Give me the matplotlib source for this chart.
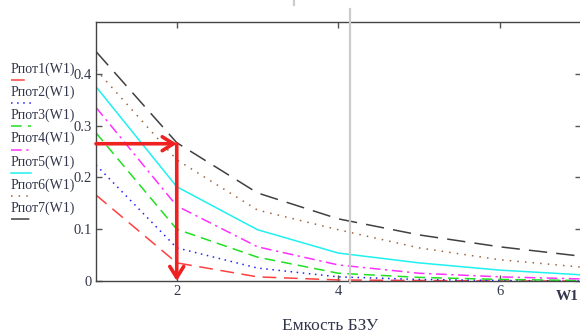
import matplotlib
matplotlib.use("Agg")
import matplotlib.pyplot as plt

# capacity W1 (x) and the seven Pпот curves
w1 = [1, 2, 3, 4, 5, 6, 7]
p1 = [0.166, 0.035, 0.008, 0.002, 0.001, 0.0, 0.0]
p2 = [0.224, 0.064, 0.025, 0.008, 0.003, 0.001, 0.0]
p3 = [0.286, 0.100, 0.046, 0.015, 0.007, 0.003, 0.001]
p4 = [0.335, 0.145, 0.066, 0.031, 0.015, 0.008, 0.004]
p5 = [0.375, 0.182, 0.099, 0.054, 0.035, 0.021, 0.012]
p6 = [0.408, 0.234, 0.137, 0.099, 0.064, 0.041, 0.027]
p7 = [0.443, 0.267, 0.170, 0.120, 0.089, 0.066, 0.048]

series = [p1, p2, p3, p4, p5, p6, p7]
names = ["Pпот%d(W1)" % i for i in range(1, 8)]
colors = ["#ff4040", "#2020ff", "#20e020", "#ff30ff", "#20f0f0", "#a0643c", "#404040"]
styles = [(0, (9, 5)), (0, (1, 3)), (0, (7, 4)), (0, (7, 3, 1.5, 3)), "-",
          (0, (1, 4)), (0, (12, 6))]

x_ticks = [2, 4, 6]
y_ticks = [0, 0.1, 0.2, 0.3, 0.4]
y_tick_labels = ["0", "0.1", "0.2", "0.3", "0.4"]

# red marker arrows: read value at W1 = 2
arrow_x = 2
arrow_y = 0.265

txt_color = "#33364a"
plt.rcParams["font.family"] = ["Liberation Serif", "DejaVu Serif"]

fig = plt.figure(figsize=(5.8, 3.34), dpi=100)
ax = fig.add_axes([96 / 580, 53 / 334, 484.5 / 580, 259 / 334])

for ys, c, ls in zip(series, colors, styles):
    ax.plot(w1, ys, color=c, linestyle=ls, linewidth=1.1)

ax.set_xlim(1, 7)
ax.set_ylim(0, 0.5)
ax.set_xticks(x_ticks)
ax.set_xticklabels([str(t) for t in x_ticks])
ax.set_yticks(y_ticks)
ax.set_yticklabels(y_tick_labels)
ax.tick_params(direction="in", length=4, width=1, color="#555555",
               labelsize=10.5, labelcolor=txt_color, top=True, right=True, pad=3)
for s in ax.spines.values():
    s.set_color("#444444")
    s.set_linewidth(1.0)
ax.spines["right"].set_visible(False)

# arrows
ax.annotate("", xy=(arrow_x, arrow_y), xytext=(w1[0], arrow_y),
            arrowprops=dict(arrowstyle="->,head_length=0.8,head_width=0.5",
                            color="#ee2020", lw=2.6, shrinkA=0, shrinkB=0))
ax.annotate("", xy=(arrow_x, 0), xytext=(arrow_x, arrow_y),
            arrowprops=dict(arrowstyle="->,head_length=0.8,head_width=0.5",
                            color="#ee2020", lw=2.6, shrinkA=0, shrinkB=0))

# legend on the left, text with a short line sample under each
for i, (n, c, ls) in enumerate(zip(names, colors, styles)):
    ty = 1 - (69 + i * 23.2) / 334
    fig.text(11 / 580, ty, n, fontsize=10, color=txt_color, va="center", ha="left")
    ly = 1 - (80 + i * 23.2) / 334
    fig.add_artist(plt.Line2D([11 / 580, 31 / 580], [ly, ly], color=c,
                              linestyle=ls, linewidth=1.1))

fig.text(330 / 580, 1 - 326 / 334, "Емкость БЗУ", fontsize=12.5, color=txt_color,
         ha="center", va="center")
fig.text(556 / 580, 1 - 297 / 334, "W1", fontsize=11, color=txt_color,
         ha="left", va="center", fontweight="bold")

# grey screen marks from the original screenshot
fig.add_artist(plt.Line2D([350 / 580, 350 / 580], [1 - 9 / 334, 1 - 283 / 334],
                          color="#cccccc", linewidth=1.6))
fig.add_artist(plt.Line2D([294 / 580, 294 / 580], [1.0, 1 - 5 / 334],
                          color="#cccccc", linewidth=1.6))

fig.savefig("out.png", dpi=100)
